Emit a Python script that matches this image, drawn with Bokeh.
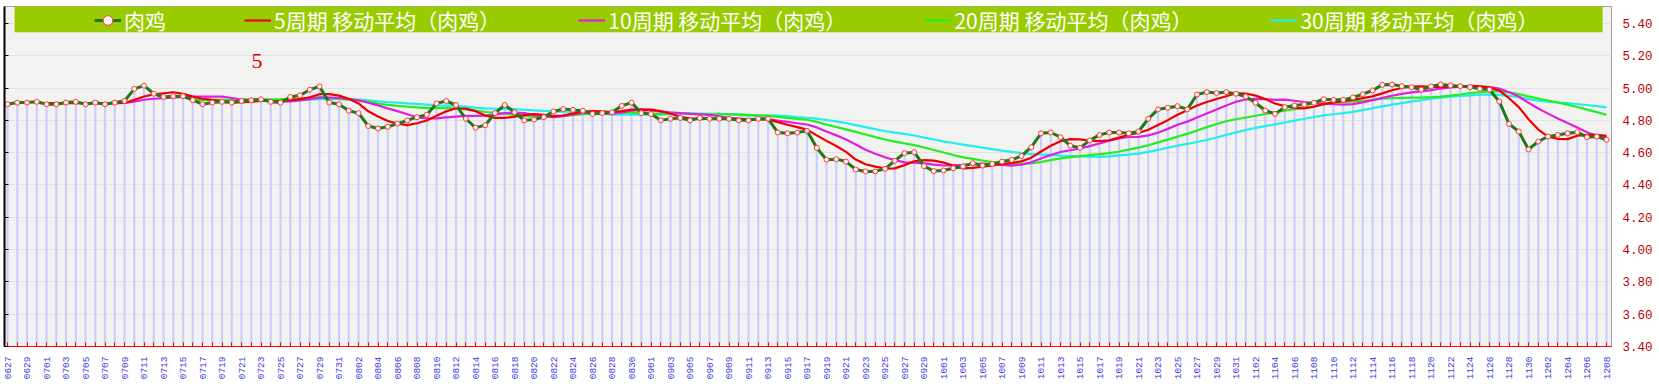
import math
import numpy as np
import pandas as pd
from bokeh.plotting import figure
from bokeh.models import (LinearAxis, FixedTicker, Legend, LegendItem, BoxAnnotation,
                          Label, Range1d, PrintfTickFormatter)
from bokeh.embed import file_html
from bokeh.resources import INLINE

# ---------------- data ----------------
dates = list(pd.date_range("2020-06-27", "2020-12-08", freq="D").strftime("%m%d"))

price = [
    4.90, 4.91, 4.91, 4.915, 4.90, 4.90, 4.91, 4.915, 4.90, 4.91, 4.90, 4.91, 4.92,
    4.995, 5.015, 4.965, 4.945, 4.95, 4.95, 4.925, 4.90,
    4.91, 4.915, 4.91, 4.92, 4.925, 4.93, 4.915, 4.91,
    4.945, 4.955, 4.99, 5.01, 4.91, 4.90,
    4.86, 4.845, 4.765, 4.75, 4.76, 4.78, 4.80, 4.82,
    4.835, 4.905, 4.92, 4.895, 4.81, 4.755, 4.77, 4.845,
    4.895, 4.85, 4.80, 4.805, 4.82, 4.855, 4.87, 4.865, 4.86, 4.84,
    4.845, 4.85, 4.89, 4.91, 4.845, 4.84, 4.80, 4.81, 4.815, 4.80,
    4.815, 4.81, 4.81, 4.81, 4.80, 4.80, 4.81, 4.81, 4.725, 4.72, 4.725, 4.735,
    4.63, 4.556, 4.56, 4.545, 4.496, 4.484, 4.484, 4.50,
    4.55, 4.597, 4.603, 4.517, 4.486, 4.49, 4.504, 4.515, 4.535, 4.52,
    4.53, 4.545, 4.556, 4.58, 4.634, 4.72, 4.725, 4.696, 4.643, 4.63,
    4.676, 4.71, 4.725, 4.725, 4.72, 4.731, 4.81, 4.868, 4.878, 4.888,
    4.868, 4.96, 4.975, 4.969, 4.975, 4.965, 4.948, 4.909, 4.861, 4.84,
    4.882, 4.892, 4.898, 4.909, 4.931, 4.927, 4.927, 4.942, 4.962, 4.985,
    5.02, 5.022, 5.012, 5.006, 4.99, 5.01, 5.022, 5.016, 5.012, 5.006,
    4.995, 4.99, 4.917, 4.778, 4.731, 4.62, 4.669, 4.70, 4.71, 4.72,
    4.727, 4.696, 4.70, 4.68,
]

series_name = "肉鸡"
ma_periods = [5, 10, 20, 30]
ma_labels = ["5周期 移动平均（肉鸡）", "10周期 移动平均（肉鸡）",
             "20周期 移动平均（肉鸡）", "30周期 移动平均（肉鸡）"]
ma_colors = ["#ee0000", "#e020e0", "#22ee22", "#22eeee"]
y_ticks = [3.40, 3.60, 3.80, 4.00, 4.20, 4.40, 4.60, 4.80, 5.00, 5.20, 5.40]
note_text = "5"

# ---------------- derived ----------------
idx = np.arange(len(dates))
price_arr = np.array(price, dtype=float)
ma_vals = {n: pd.Series(price_arr).rolling(n).mean().to_numpy() for n in ma_periods}

# ---------------- figure ----------------
p = figure(width=1659, height=389, output_backend="svg", toolbar_location=None,
           x_range=Range1d(-0.31, 164.51), y_range=Range1d(3.40, 5.505),
           y_axis_location="right",
           min_border_left=4, min_border_right=48, min_border_top=6, min_border_bottom=43,
           background_fill_color="#f2f2f0", border_fill_color="white",
           outline_line_color="#a0a0a0")
p.styles = {"outline": "2px solid black", "outline-offset": "-3px"}

p.xgrid.visible = False
p.ygrid.grid_line_color = "#e2e2e2"

# bars
p.vbar(x=idx, top=price_arr, bottom=3.40, width=0.22, fill_color="#ccccff",
       line_color=None)

# moving averages (drawn below main series)
ma_renderers = {}
for n, c in zip(ma_periods[::-1], ma_colors[::-1]):
    ma_renderers[n] = p.line(idx, ma_vals[n], line_color=c, line_width=2.2)

r_line = p.line(idx, price_arr, line_color="#1a7a1a", line_width=3)
r_pts = p.scatter(idx, price_arr, marker="circle", size=5, fill_color="#fff4f4",
                  line_color="#ff3b3b", line_width=1)

# axes
yr = p.yaxis[0]
yr.ticker = FixedTicker(ticks=y_ticks)
yr.formatter = PrintfTickFormatter(format="%.2f")
yr.axis_line_color = None
yr.major_tick_line_color = None
yr.minor_tick_line_color = None
yr.major_tick_out = 0
yr.major_tick_in = 0
yr.minor_tick_out = 0
yr.minor_tick_in = 0
yr.axis_label_standoff = 0
yr.major_label_text_color = "#c00000"
yr.major_label_text_font = "Liberation Mono"
yr.major_label_text_font_size = "12.5px"
yr.major_label_standoff = 11

yl = LinearAxis(ticker=FixedTicker(ticks=y_ticks), axis_line_color="black",
                axis_line_width=2, major_tick_in=4, major_tick_out=0,
                minor_tick_in=0, minor_tick_out=0, axis_label_standoff=0,
                major_tick_line_color="black", minor_tick_line_color=None,
                major_label_text_font_size="0px", major_label_standoff=0,
                major_label_overrides={t: "" for t in y_ticks})
p.add_layout(yl, "left")

xa = p.xaxis[0]
xa.ticker = FixedTicker(ticks=list(idx))
xa.major_label_overrides = {int(i): (dates[i] if i % 2 == 0 else "") for i in idx}
xa.major_label_orientation = math.pi / 2
xa.axis_line_color = "#ff0000"
xa.major_tick_line_color = "#ff0000"
xa.major_tick_in = 4
xa.major_tick_out = 0
xa.minor_tick_in = 0
xa.minor_tick_out = 0
xa.axis_label_standoff = 0
xa.minor_tick_line_color = None
xa.major_label_text_color = "#3c3cd8"
xa.major_label_text_font = "Liberation Mono"
xa.major_label_text_font_size = "9.5px"
xa.major_label_standoff = 10

# legend band
band = BoxAnnotation(left=0.72, right=163.6, top=5.522, bottom=5.346,
                     fill_color="#99cc00", fill_alpha=1.0, line_color=None)
p.add_layout(band)

items = [LegendItem(label=series_name, renderers=[r_line, r_pts])]
for n, lab in zip(ma_periods, ma_labels):
    items.append(LegendItem(label=lab, renderers=[ma_renderers[n]]))
legend = Legend(items=items, orientation="horizontal", location=(90, 311),
                background_fill_alpha=0, border_line_color=None, padding=0, margin=0,
                spacing=78, glyph_width=27, glyph_height=24, label_height=24,
                label_standoff=3, label_text_color="white",
                label_text_font="Noto Sans CJK SC", label_text_font_size="21px")
p.add_layout(legend)

p.add_layout(Label(x=25.6, y=5.165, text=note_text, text_color="#e00000",
                   text_font="Liberation Serif", text_font_size="22px",
                   text_align="center", text_baseline="middle"))

open("out.html", "w").write(file_html(p, INLINE))
